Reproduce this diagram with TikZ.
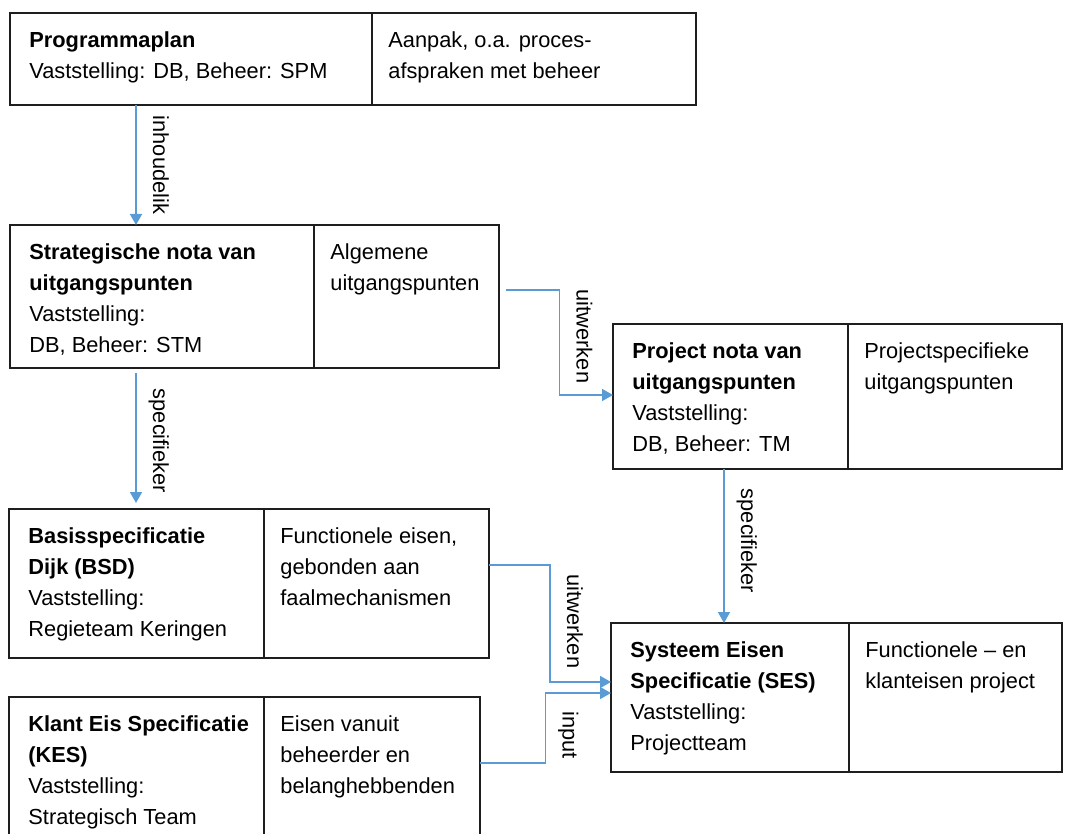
\documentclass[tikz,border=0pt]{standalone}
\usepackage{fontspec}
\setmainfont{Liberation Sans}
\usetikzlibrary{arrows.meta,calc,positioning}
\definecolor{pijlblauw}{RGB}{91,155,213}
\definecolor{rand}{RGB}{30,30,30}

\begin{document}
\begin{tikzpicture}[x=0.5pt,y=-0.5pt,
    cel/.style={draw=rand, line width=0.7pt, anchor=north west, inner sep=0pt, outer sep=0pt},
    tekst/.style={anchor=north west, inner sep=0pt, align=left, font=\fontsize{10.9pt}{15.5pt}\selectfont},
    pijl/.style={draw=pijlblauw, line width=0.8pt, -{Triangle[length=5.5pt,width=6pt]}},
    lbl/.style={xshift=8.5pt, rotate=-90, anchor=base, inner sep=0pt, font=\fontsize{10.9pt}{12pt}\selectfont}]
  \useasboundingbox (0,0) rectangle (1076,834);
  % Programmaplan
  \node[cel, minimum width=181pt, minimum height=46pt] (pl) at (10,13) {};
  \node[cel, minimum width=162pt, minimum height=46pt] (pr) at (pl.north east) {};
  \node[tekst, below right=9.3pt and 9.5pt of pl.north west] (plt) {\textbf{Programmaplan}\\Vaststelling: DB, Beheer: SPM};
  \node[tekst, below right=9.3pt and 8pt of pr.north west] (prt) {Aanpak, o.a. proces-\\afspraken met beheer};
  % Strategische nota
  \node[cel, minimum width=152pt, minimum height=71.5pt] (sl) at (10,225) {};
  \node[cel, minimum width=92.5pt, minimum height=71.5pt] (sr) at (sl.north east) {};
  \node[tekst, below right=9.3pt and 9.5pt of sl.north west] (slt) {\textbf{Strategische nota van}\\\textbf{uitgangspunten}\\Vaststelling:\\DB, Beheer: STM};
  \node[tekst, below right=9.3pt and 8pt of sr.north west] (srt) {Algemene\\uitgangspunten};
  % Project nota
  \node[cel, minimum width=117.5pt, minimum height=72.5pt] (pnl) at (613,324) {};
  \node[cel, minimum width=107pt, minimum height=72.5pt] (pnr) at (pnl.north east) {};
  \node[tekst, below right=9.3pt and 9.5pt of pnl.north west] (pnlt) {\textbf{Project nota van}\\\textbf{uitgangspunten}\\Vaststelling:\\DB, Beheer: TM};
  \node[tekst, below right=9.3pt and 8pt of pnr.north west] (pnrt) {Projectspecifieke\\uitgangspunten};
  % Basisspecificatie Dijk
  \node[cel, minimum width=127.5pt, minimum height=74.5pt] (bl) at (9,509) {};
  \node[cel, minimum width=112.5pt, minimum height=74.5pt] (br) at (bl.north east) {};
  \node[tekst, below right=9.3pt and 9.5pt of bl.north west] (blt) {\textbf{Basisspecificatie}\\\textbf{Dijk (BSD)}\\Vaststelling:\\Regieteam Keringen};
  \node[tekst, below right=9.3pt and 8pt of br.north west] (brt) {Functionele eisen,\\gebonden aan\\faalmechanismen};
  % Klant Eis Specificatie
  \node[cel, minimum width=127.5pt, minimum height=76.5pt] (kl) at (9,697) {};
  \node[cel, minimum width=108pt, minimum height=76.5pt] (kr) at (kl.north east) {};
  \node[tekst, below right=9.3pt and 9.5pt of kl.north west] (klt) {\textbf{Klant Eis Specificatie}\\\textbf{(KES)}\\Vaststelling:\\Strategisch Team};
  \node[tekst, below right=9.3pt and 8pt of kr.north west] (krt) {Eisen vanuit\\beheerder en\\belanghebbenden};
  % Systeem Eisen Specificatie
  \node[cel, minimum width=119pt, minimum height=74.5pt] (sesl) at (611,623) {};
  \node[cel, minimum width=106.5pt, minimum height=74.5pt] (sesr) at (sesl.north east) {};
  \node[tekst, below right=9.3pt and 9.5pt of sesl.north west] (seslt) {\textbf{Systeem Eisen}\\\textbf{Specificatie (SES)}\\Vaststelling:\\Projectteam};
  \node[tekst, below right=9.3pt and 8pt of sesr.north west] (sesrt) {Functionele -- en\\klanteisen project};
  % verbindingen
  \coordinate (a1) at ([xshift=63pt]pl.south west);
  \draw[pijl] (a1) -- (a1 |- sl.north) node[lbl, midway] {inhoudelik};
  \coordinate (a2) at ([xshift=63pt,yshift=-2.5pt]sl.south west);
  \draw[pijl, shorten >=3pt] (a2) -- (a2 |- bl.north) node[lbl, midway] {specifieker};
  \coordinate (a3) at ([xshift=3.5pt,yshift=-32.5pt]sr.north east);
  \coordinate (b3) at ([yshift=-35.5pt]pnl.north west);
  \draw[pijl] (a3) -| ($(a3)!0.5!(b3)$) node[yshift=3pt, lbl] {uitwerken} |- (b3);
  \coordinate (a4) at ([xshift=55.5pt]pnl.south west);
  \draw[pijl] (a4) -- (a4 |- sesl.north) node[yshift=2.5pt, lbl, midway] {specifieker};
  \coordinate (a5) at ([yshift=-28pt]br.north east);
  \coordinate (b5) at ([yshift=-29.5pt]sesl.north west);
  \draw[pijl] (a5) -| ($(a5)!0.5!(b5)$) node[lbl, xshift=-1pt] {uitwerken} |- (b5);
  \coordinate (a6) at ([yshift=-33pt]kr.north east);
  \coordinate (b6) at ([yshift=-35pt]sesl.north west);
  \draw[pijl] (a6) -| ($(a6)!0.5!(b6)$) node[yshift=-3.5pt, lbl] {input} |- (b6);
\end{tikzpicture}
\end{document}
